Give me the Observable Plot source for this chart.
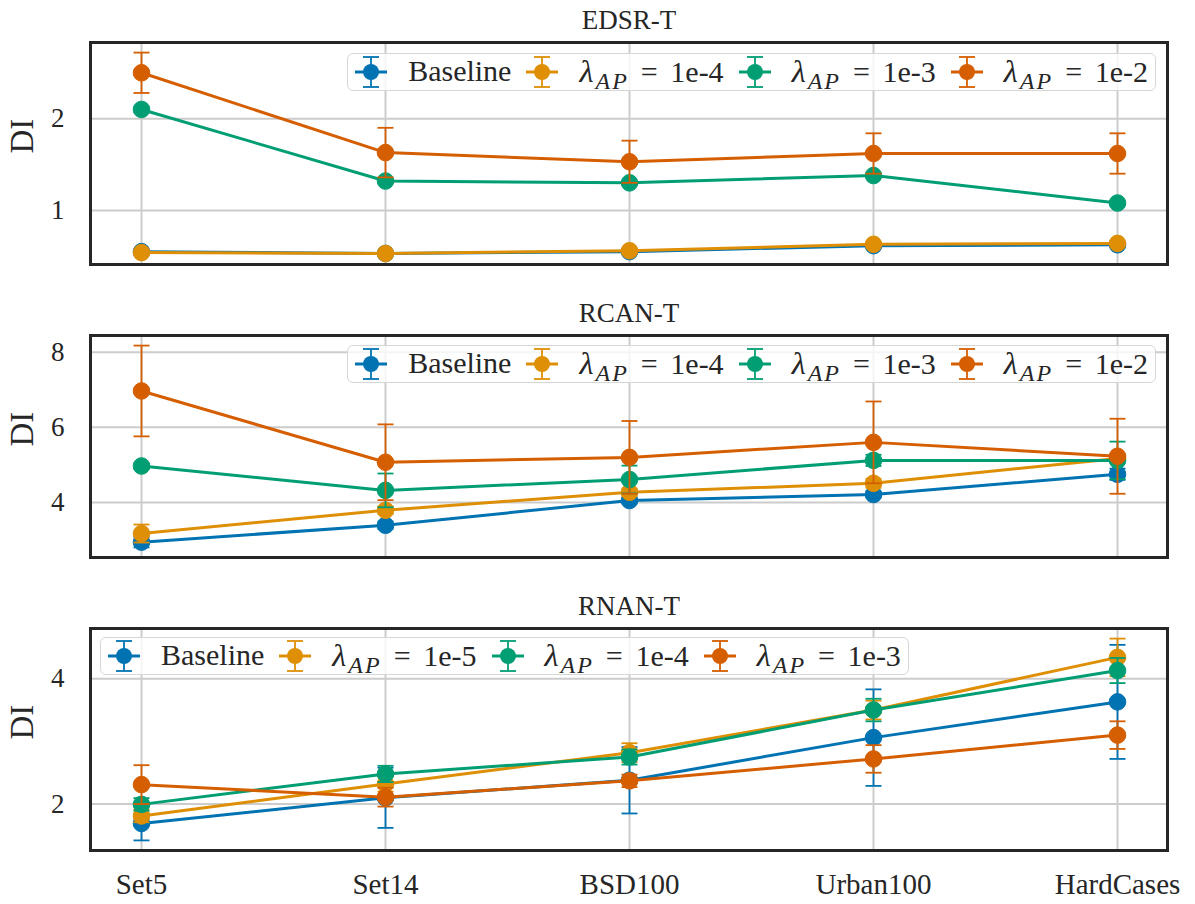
<!DOCTYPE html>
<html><head><meta charset="utf-8">
<script src="https://cdn.jsdelivr.net/npm/d3@7"></script>
<script src="https://cdn.jsdelivr.net/npm/@observablehq/plot@0.6"></script>
<style>
body{margin:0;background:#fff;}
#wrap{position:relative;width:1195px;height:904px;font-family:"Liberation Serif","DejaVu Serif","Times New Roman",serif;color:#262626;overflow:hidden;}
.panel{position:absolute;left:0;}
.legend{position:absolute;display:flex;align-items:center;height:38px;box-sizing:border-box;background:rgba(255,255,255,0.8);border:1.5px solid #d6d6d6;border-radius:6px;padding:0 7px 0 6px;font-size:30px;line-height:1;white-space:nowrap;z-index:5;}
.item{display:flex;align-items:center;}
.item + .item{margin-left:14px;}
.item svg{margin-right:20px;display:block;}
.lbl{position:relative;top:-1px;}
.lbl i{font-style:italic;font-size:1.08em;margin-right:2px;}
.lbl sub{font-size:0.8em;font-style:italic;vertical-align:-0.3em;line-height:0;letter-spacing:2px;}
.eq{margin:0 0.42em 0 0.4em;}
</style></head>
<body><div id="wrap"></div>
<script>
const datasets = ["Set5", "Set14", "BSD100", "Urban100", "HardCases"];
const seriesColors = ["#0173b2", "#de8f05", "#029e73", "#d55e00"];
const serifFont = "'Liberation Serif', 'DejaVu Serif', 'Times New Roman', serif";

// EDSR-T
const edsrLambdas = ["Baseline", "1e-4", "1e-3", "1e-2"];
const edsrBaseline = [0.55, 0.53, 0.55, 0.615, 0.625];
const edsrBaselineErr = [0.01, 0.01, 0.01, 0.01, 0.01];
const edsrAP1 = [0.54, 0.53, 0.56, 0.63, 0.64];
const edsrAP1Err = [0.01, 0.01, 0.01, 0.01, 0.01];
const edsrAP2 = [2.10, 1.32, 1.30, 1.38, 1.08];
const edsrAP2Err = [0.03, 0.02, 0.02, 0.02, 0.02];
const edsrAP3 = [2.50, 1.63, 1.53, 1.62, 1.62];
const edsrAP3Err = [0.22, 0.27, 0.23, 0.22, 0.22];
const edsrTicks = [1, 2];

// RCAN-T
const rcanLambdas = ["Baseline", "1e-4", "1e-3", "1e-2"];
const rcanBaseline = [2.94, 3.39, 4.05, 4.21, 4.75];
const rcanBaselineErr = [0.14, 0.10, 0.08, 0.08, 0.15];
const rcanAP1 = [3.17, 3.79, 4.27, 4.51, 5.17];
const rcanAP1Err = [0.24, 0.10, 0.10, 0.12, 0.10];
const rcanAP2 = [4.97, 4.32, 4.61, 5.12, 5.12];
const rcanAP2Err = [0.07, 0.45, 0.37, 0.15, 0.50];
const rcanAP3 = [6.97, 5.07, 5.20, 5.60, 5.23];
const rcanAP3Err = [1.21, 1.01, 0.97, 1.09, 1.00];
const rcanTicks = [4, 6, 8];

// RNAN-T
const rnanLambdas = ["Baseline", "1e-5", "1e-4", "1e-3"];
const rnanBaseline = [1.69, 2.10, 2.38, 3.06, 3.63];
const rnanBaselineErr = [0.27, 0.48, 0.53, 0.77, 0.91];
const rnanAP1 = [1.81, 2.32, 2.82, 3.50, 4.34];
const rnanAP1Err = [0.10, 0.12, 0.15, 0.15, 0.30];
const rnanAP2 = [1.995, 2.48, 2.75, 3.50, 4.13];
const rnanAP2Err = [0.10, 0.13, 0.12, 0.18, 0.20];
const rnanAP3 = [2.31, 2.11, 2.37, 2.72, 3.10];
const rnanAP3Err = [0.31, 0.15, 0.10, 0.22, 0.22];
const rnanTicks = [2, 4];

const capSymbol = {draw(ctx, size) { const w = Math.sqrt(size / Math.PI); ctx.moveTo(-w, 0); ctx.lineTo(w, 0); }};

function buildPanel(cfg) {
  const rows = [];
  cfg.values.forEach((vals, i) => vals.forEach((v, j) => {
    const e = cfg.errors[i][j];
    rows.push({dataset: datasets[j], series: i, value: v, lo: v - e, hi: v + e});
  }));
  const lo = d3.min(rows, d => d.lo), hi = d3.max(rows, d => d.hi), pad = (hi - lo) * 0.05;
  const marks = [
    Plot.gridX(datasets, {stroke: "#cccccc", strokeOpacity: 1, strokeWidth: 2}),
    Plot.gridY(cfg.yTicks, {stroke: "#cccccc", strokeOpacity: 1, strokeWidth: 2})
  ];
  cfg.values.forEach((_, i) => {
    const sub = rows.filter(d => d.series === i);
    const c = seriesColors[i];
    marks.push(
      Plot.ruleX(sub, {x: "dataset", y1: "lo", y2: "hi", stroke: c, strokeWidth: 1.8}),
      Plot.dot(sub, {x: "dataset", y: "lo", symbol: capSymbol, r: 8, stroke: c, fill: "none", strokeWidth: 1.8}),
      Plot.dot(sub, {x: "dataset", y: "hi", symbol: capSymbol, r: 8, stroke: c, fill: "none", strokeWidth: 1.8}),
      Plot.line(sub, {x: "dataset", y: "value", stroke: c, strokeWidth: 3}),
      Plot.dot(sub, {x: "dataset", y: "value", r: 8.3, fill: c, stroke: c, strokeWidth: 1})
    );
  });
  marks.push(Plot.frame({stroke: "#262626", strokeWidth: 3}));
  marks.push(Plot.axisY({ticks: cfg.yTicks, tickFormat: d => String(d), tickSize: 0, tickPadding: 26, fontSize: 27, fontFamily: serifFont, label: null}));
  if (cfg.showX) marks.push(Plot.axisX({tickSize: 0, tickPadding: 23, fontSize: 29, fontFamily: serifFont, label: null}));
  marks.push(Plot.text([cfg.title], {text: d => d, frameAnchor: "top", dy: -33, fontSize: 27, fontFamily: serifFont}));
  marks.push(Plot.text(["DI"], {text: d => d, frameAnchor: "left", dx: -68, rotate: -90, fontSize: 33, fontFamily: serifFont}));
  return Plot.plot({
    width: 1195, height: cfg.height,
    marginTop: 42, marginBottom: cfg.marginBottom, marginLeft: 90, marginRight: 28,
    style: {fontFamily: serifFont, color: "#262626", background: "transparent"},
    x: {type: "point", domain: datasets, padding: 0.2, ...(cfg.showX ? {} : {axis: null})},
    y: {domain: [lo - pad, hi + pad]},
    marks
  });
}

function glyph(color) {
  const ns = "http://www.w3.org/2000/svg";
  const svg = document.createElementNS(ns, "svg");
  svg.setAttribute("width", 34); svg.setAttribute("height", 34);
  svg.innerHTML =
    `<line x1="1" x2="33" y1="17" y2="17" stroke="${color}" stroke-width="3"/>` +
    `<line x1="17" x2="17" y1="2" y2="32" stroke="${color}" stroke-width="1.8"/>` +
    `<line x1="9" x2="25" y1="2" y2="2" stroke="${color}" stroke-width="1.8"/>` +
    `<line x1="9" x2="25" y1="32" y2="32" stroke="${color}" stroke-width="1.8"/>` +
    `<circle cx="17" cy="17" r="8" fill="${color}"/>`;
  return svg;
}

function buildLegend(lambdas, pos) {
  const div = document.createElement("div");
  div.className = "legend";
  Object.assign(div.style, pos);
  lambdas.forEach((lab, i) => {
    const item = document.createElement("div");
    item.className = "item";
    item.appendChild(glyph(seriesColors[i]));
    const span = document.createElement("span");
    span.className = "lbl";
    span.innerHTML = i === 0 ? lab : `<i>λ</i><sub>AP</sub><span class="eq">=</span>${lab}`;
    item.appendChild(span);
    div.appendChild(item);
  });
  return div;
}

const wrap = document.getElementById("wrap");
const panels = [
  {title: "EDSR-T", top: 0, height: 293, marginBottom: 29, showX: false, yTicks: edsrTicks,
   values: [edsrBaseline, edsrAP1, edsrAP2, edsrAP3], errors: [edsrBaselineErr, edsrAP1Err, edsrAP2Err, edsrAP3Err],
   lambdas: edsrLambdas, legendPos: {right: "39px", top: "53px"}},
  {title: "RCAN-T", top: 293, height: 293, marginBottom: 29, showX: false, yTicks: rcanTicks,
   values: [rcanBaseline, rcanAP1, rcanAP2, rcanAP3], errors: [rcanBaselineErr, rcanAP1Err, rcanAP2Err, rcanAP3Err],
   lambdas: rcanLambdas, legendPos: {right: "39px", top: "345px"}},
  {title: "RNAN-T", top: 586, height: 318, marginBottom: 54, showX: true, yTicks: rnanTicks,
   values: [rnanBaseline, rnanAP1, rnanAP2, rnanAP3], errors: [rnanBaselineErr, rnanAP1Err, rnanAP2Err, rnanAP3Err],
   lambdas: rnanLambdas, legendPos: {left: "100px", top: "637px"}}
];
for (const p of panels) {
  const holder = document.createElement("div");
  holder.className = "panel";
  holder.style.top = p.top + "px";
  holder.appendChild(buildPanel(p));
  wrap.appendChild(holder);
  wrap.appendChild(buildLegend(p.lambdas, p.legendPos));
}
</script>
</body></html>
